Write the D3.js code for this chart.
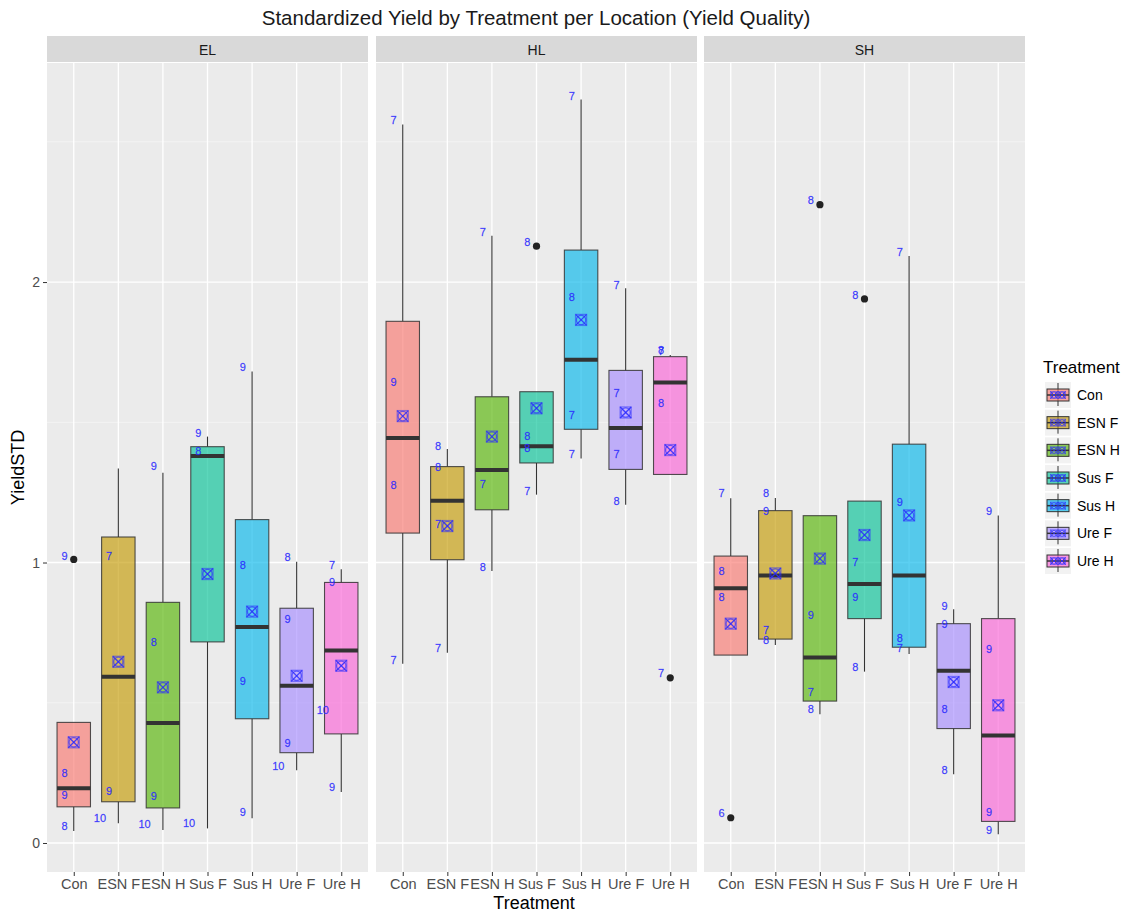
<!DOCTYPE html>
<html>
<head>
<meta charset="utf-8">
<script src="https://cdn.jsdelivr.net/npm/d3@7.9.0/dist/d3.min.js"></script>
<style>
  body { margin: 0; background: #fff; }
  svg { font-family: 'Liberation Sans', Arial, sans-serif; }
</style>
</head>
<body>
<svg id="chart" width="1130" height="914"></svg>
<script>
const locations = ['EL', 'HL', 'SH'];
const treatments = ['Con', 'ESN F', 'ESN H', 'Sus F', 'Sus H', 'Ure F', 'Ure H'];
const fillColors = ['#F8766D', '#C49A00', '#53B400', '#00C094', '#00B6EB', '#A58AFF', '#FB61D7'];
const yTicks = [0, 1, 2];
const yMinor = [0.5, 1.5, 2.5];

// [lower whisker, q1, median, q3, upper whisker] per treatment
const boxEL = [
  [0.043, 0.129, 0.195, 0.430, 0.430],
  [0.070, 0.147, 0.593, 1.091, 1.335],
  [0.046, 0.125, 0.428, 0.858, 1.320],
  [0.052, 0.717, 1.380, 1.413, 1.449],
  [0.088, 0.443, 0.770, 1.153, 1.681],
  [0.259, 0.322, 0.561, 0.837, 1.003],
  [0.182, 0.389, 0.686, 0.929, 0.976],
];
const boxHL = [
  [0.639, 1.105, 1.444, 1.860, 2.562],
  [0.678, 1.010, 1.220, 1.342, 1.405],
  [0.970, 1.188, 1.330, 1.591, 2.165],
  [1.242, 1.355, 1.415, 1.609, 1.609],
  [1.371, 1.475, 1.723, 2.114, 2.651],
  [1.206, 1.332, 1.480, 1.685, 1.978],
  [1.314, 1.314, 1.642, 1.734, 1.740],
];
const boxSH = [
  [0.670, 0.670, 0.908, 1.023, 1.229],
  [0.706, 0.727, 0.954, 1.185, 1.230],
  [0.459, 0.506, 0.661, 1.167, 1.167],
  [0.611, 0.800, 0.923, 1.219, 1.219],
  [0.674, 0.698, 0.954, 1.422, 2.093],
  [0.245, 0.408, 0.614, 0.782, 0.833],
  [0.031, 0.077, 0.383, 0.800, 1.168],
];

const meanEL = [0.359, 0.646, 0.555, 0.959, 0.825, 0.596, 0.632];
const meanHL = [1.522, 1.130, 1.449, 1.550, 1.865, 1.535, 1.401];
const meanSH = [0.782, 0.961, 1.014, 1.098, 1.168, 0.574, 0.491];

const outliersEL = [[1.011], [], [], [], [], [], []];
const outliersHL = [[], [], [], [2.128], [], [], [0.589]];
const outliersSH = [[0.090], [], [2.276], [1.940], [], [], []];

// [value, label] per treatment
const labelsEL = [
  [[0.046, '8'], [0.158, '9'], [0.237, '8'], [1.011, '9']],
  [[0.076, '10'], [0.174, '9'], [1.011, '7']],
  [[0.054, '10'], [0.154, '9'], [0.705, '8'], [1.330, '9']],
  [[0.060, '10'], [1.383, '8'], [1.450, '9']],
  [[0.096, '9'], [0.564, '9'], [0.979, '8'], [1.683, '9']],
  [[0.263, '10'], [0.345, '9'], [0.785, '9'], [1.006, '8']],
  [[0.186, '9'], [0.461, '10'], [0.917, '9'], [0.979, '7']],
];
const labelsHL = [
  [[0.640, '7'], [1.265, '8'], [1.629, '9'], [2.565, '7']],
  [[0.682, '7'], [1.124, '7'], [1.326, '8'], [1.404, '8']],
  [[0.971, '8'], [1.266, '7'], [2.165, '7']],
  [[1.242, '7'], [1.395, '8'], [1.439, '8'], [2.128, '8']],
  [[1.373, '7'], [1.512, '7'], [1.935, '8'], [2.652, '7']],
  [[1.208, '8'], [1.373, '7'], [1.593, '7'], [1.977, '7']],
  [[0.593, '7'], [1.557, '8'], [1.741, '7'], [1.745, '8']],
];
const labelsSH = [
  [[0.093, '6'], [0.863, '8'], [0.957, '8'], [1.234, '7']],
  [[0.709, '8'], [0.747, '7'], [1.172, '9'], [1.234, '8']],
  [[0.465, '8'], [0.525, '7'], [0.800, '9'], [2.280, '8']],
  [[0.616, '8'], [0.863, '9'], [0.988, '7'], [1.940, '8']],
  [[0.682, '7'], [0.717, '8'], [1.202, '9'], [2.093, '7']],
  [[0.247, '8'], [0.465, '8'], [0.768, '9'], [0.832, '9']],
  [[0.033, '9'], [0.096, '9'], [0.679, '9'], [1.172, '9']],
];

const panels = [
  { name: 'EL', box: boxEL, mean: meanEL, outliers: outliersEL, labels: labelsEL },
  { name: 'HL', box: boxHL, mean: meanHL, outliers: outliersHL, labels: labelsHL },
  { name: 'SH', box: boxSH, mean: meanSH, outliers: outliersSH, labels: labelsSH },
];

const svg = d3.select('#chart');
const panelTop = 63;
const panelBottom = 872;
const stripTop = 36;
const panelX = [47, 376, 704];
const panelW = 321;
const labelBlue = '#2a2aff';
const fontFamily = "'Liberation Sans', Arial, sans-serif";

const y = d3.scaleLinear().domain([-0.1034, 2.781]).range([panelBottom, panelTop]);
const color = d3.scaleOrdinal().domain(treatments).range(fillColors);

function drawMeanSymbol(g, cx, cy, s, sw = 1.3) {
  const h = s / 2;
  const m = g.append('g').attr('stroke', labelBlue).attr('stroke-opacity', 0.85)
    .attr('fill', 'none').attr('stroke-width', sw);
  m.append('rect').attr('x', cx - h).attr('y', cy - h).attr('width', s).attr('height', s)
    .attr('stroke-opacity', 0.5);
  m.append('line').attr('x1', cx - h).attr('y1', cy - h).attr('x2', cx + h).attr('y2', cy + h);
  m.append('line').attr('x1', cx - h).attr('y1', cy + h).attr('x2', cx + h).attr('y2', cy - h);
  m.append('circle').attr('cx', cx).attr('cy', cy).attr('r', h * 0.85).attr('stroke-opacity', 0.65);
}

// title
svg.append('text')
  .attr('x', 536).attr('y', 25)
  .attr('text-anchor', 'middle')
  .attr('font-size', 20.5)
  .attr('fill', '#1a1a1a')
  .text('Standardized Yield by Treatment per Location (Yield Quality)');

panels.forEach((panel, pi) => {
  const x0 = panelX[pi];
  const x = d3.scalePoint().domain(treatments).range([x0, x0 + panelW]).padding(0.6);
  const bw = x.step() * 0.75;
  const g = svg.append('g');

  // strip
  g.append('rect').attr('x', x0).attr('y', stripTop).attr('width', panelW)
    .attr('height', panelTop - stripTop - 1).attr('fill', '#d9d9d9');
  g.append('text').attr('x', x0 + panelW / 2).attr('y', (stripTop + panelTop) / 2 + 5)
    .attr('text-anchor', 'middle').attr('font-size', 14).attr('fill', '#1a1a1a')
    .text(panel.name);

  // background + grid
  g.append('rect').attr('x', x0).attr('y', panelTop).attr('width', panelW)
    .attr('height', panelBottom - panelTop).attr('fill', '#ebebeb');
  g.selectAll('.minor').data(yMinor).join('line')
    .attr('x1', x0).attr('x2', x0 + panelW)
    .attr('y1', (d) => y(d)).attr('y2', (d) => y(d))
    .attr('stroke', '#f5f5f5').attr('stroke-width', 0.8);
  g.selectAll('.major').data(yTicks).join('line')
    .attr('x1', x0).attr('x2', x0 + panelW)
    .attr('y1', (d) => y(d)).attr('y2', (d) => y(d))
    .attr('stroke', '#fff').attr('stroke-width', 1.3);
  g.selectAll('.vgrid').data(treatments).join('line')
    .attr('x1', (d) => x(d)).attr('x2', (d) => x(d))
    .attr('y1', panelTop).attr('y2', panelBottom)
    .attr('stroke', '#fff').attr('stroke-width', 1.3);

  // x axis
  const xAxis = d3.axisBottom(x).tickSize(4).tickPadding(3);
  const ax = g.append('g').attr('transform', `translate(0,${panelBottom})`).call(xAxis);
  ax.select('.domain').remove();
  ax.selectAll('.tick line').attr('stroke', '#333');
  ax.selectAll('.tick text').attr('font-size', 14.5).attr('fill', '#4d4d4d')
    .attr('font-family', fontFamily);

  treatments.forEach((t, i) => {
    const [lw, q1, med, q3, uw] = panel.box[i];
    const cx = x(t);
    // whiskers
    g.append('line').attr('x1', cx).attr('x2', cx).attr('y1', y(uw)).attr('y2', y(q3))
      .attr('stroke', '#333').attr('stroke-width', 1.1);
    g.append('line').attr('x1', cx).attr('x2', cx).attr('y1', y(q1)).attr('y2', y(lw))
      .attr('stroke', '#333').attr('stroke-width', 1.1);
    // box
    g.append('rect').attr('x', cx - bw / 2).attr('y', y(q3)).attr('width', bw)
      .attr('height', y(q1) - y(q3))
      .attr('fill', color(t)).attr('fill-opacity', 0.64)
      .attr('stroke', '#333').attr('stroke-opacity', 0.85).attr('stroke-width', 1.1);
    g.append('line').attr('x1', cx - bw / 2).attr('x2', cx + bw / 2)
      .attr('y1', y(med)).attr('y2', y(med))
      .attr('stroke', '#333').attr('stroke-width', 4);
    // outliers
    panel.outliers[i].forEach((o) => {
      g.append('circle').attr('cx', cx).attr('cy', y(o)).attr('r', 3.6).attr('fill', '#222');
    });
    // mean
    drawMeanSymbol(g, cx, y(panel.mean[i]), 11);
    // labels
    panel.labels[i].forEach(([v, txt]) => {
      const lbl = g.append('text').attr('y', y(v) - 3.5).attr('dy', '0.35em')
        .attr('font-size', 11).attr('fill', labelBlue).attr('fill-opacity', 0.9)
        .attr('stroke', labelBlue).attr('stroke-width', 0.3).attr('stroke-opacity', 0.6)
        .attr('text-anchor', 'end').text(txt);
      const w = lbl.node().getComputedTextLength();
      lbl.attr('x', cx - w);
    });
  });
});

// y axis
const yAxis = d3.axisLeft(y).tickValues(yTicks).tickFormat(d3.format('d')).tickSize(4).tickPadding(3);
const ay = svg.append('g').attr('transform', `translate(${panelX[0]},0)`).call(yAxis);
ay.select('.domain').remove();
ay.selectAll('.tick line').attr('stroke', '#333');
ay.selectAll('.tick text').attr('font-size', 14).attr('fill', '#4d4d4d')
  .attr('font-family', fontFamily);

// axis titles
svg.append('text').attr('x', 534).attr('y', 909).attr('text-anchor', 'middle')
  .attr('font-size', 18).attr('fill', '#000').text('Treatment');
svg.append('text').attr('transform', `translate(24,${(panelTop + panelBottom) / 2}) rotate(-90)`)
  .attr('text-anchor', 'middle').attr('font-size', 18).attr('fill', '#000').text('YieldSTD');

// legend
const legend = svg.append('g').attr('transform', 'translate(1043,0)');
legend.append('text').attr('x', 0).attr('y', 373).attr('font-size', 17).attr('fill', '#000')
  .text('Treatment');
const keyY = d3.scalePoint().domain(treatments).range([395, 561]);
treatments.forEach((t) => {
  const cy = keyY(t);
  const k = legend.append('g');
  k.append('rect').attr('x', 2).attr('y', cy - 13).attr('width', 26).attr('height', 26)
    .attr('fill', '#f2f2f2');
  k.append('line').attr('x1', 15).attr('x2', 15).attr('y1', cy - 12).attr('y2', cy + 11)
    .attr('stroke', '#333').attr('stroke-width', 1);
  k.append('rect').attr('x', 4).attr('y', cy - 6).attr('width', 22).attr('height', 12)
    .attr('fill', color(t)).attr('fill-opacity', 0.64)
    .attr('stroke', '#333').attr('stroke-width', 1);
  k.append('line').attr('x1', 4).attr('x2', 26).attr('y1', cy).attr('y2', cy)
    .attr('stroke', '#333').attr('stroke-width', 1.5);
  drawMeanSymbol(k, 11, cy, 7, 1);
  drawMeanSymbol(k, 19, cy, 7, 1);
  k.append('text').attr('x', 34).attr('y', cy + 5).attr('font-size', 14).attr('fill', '#000')
    .text(t);
});
</script>
</body>
</html>
